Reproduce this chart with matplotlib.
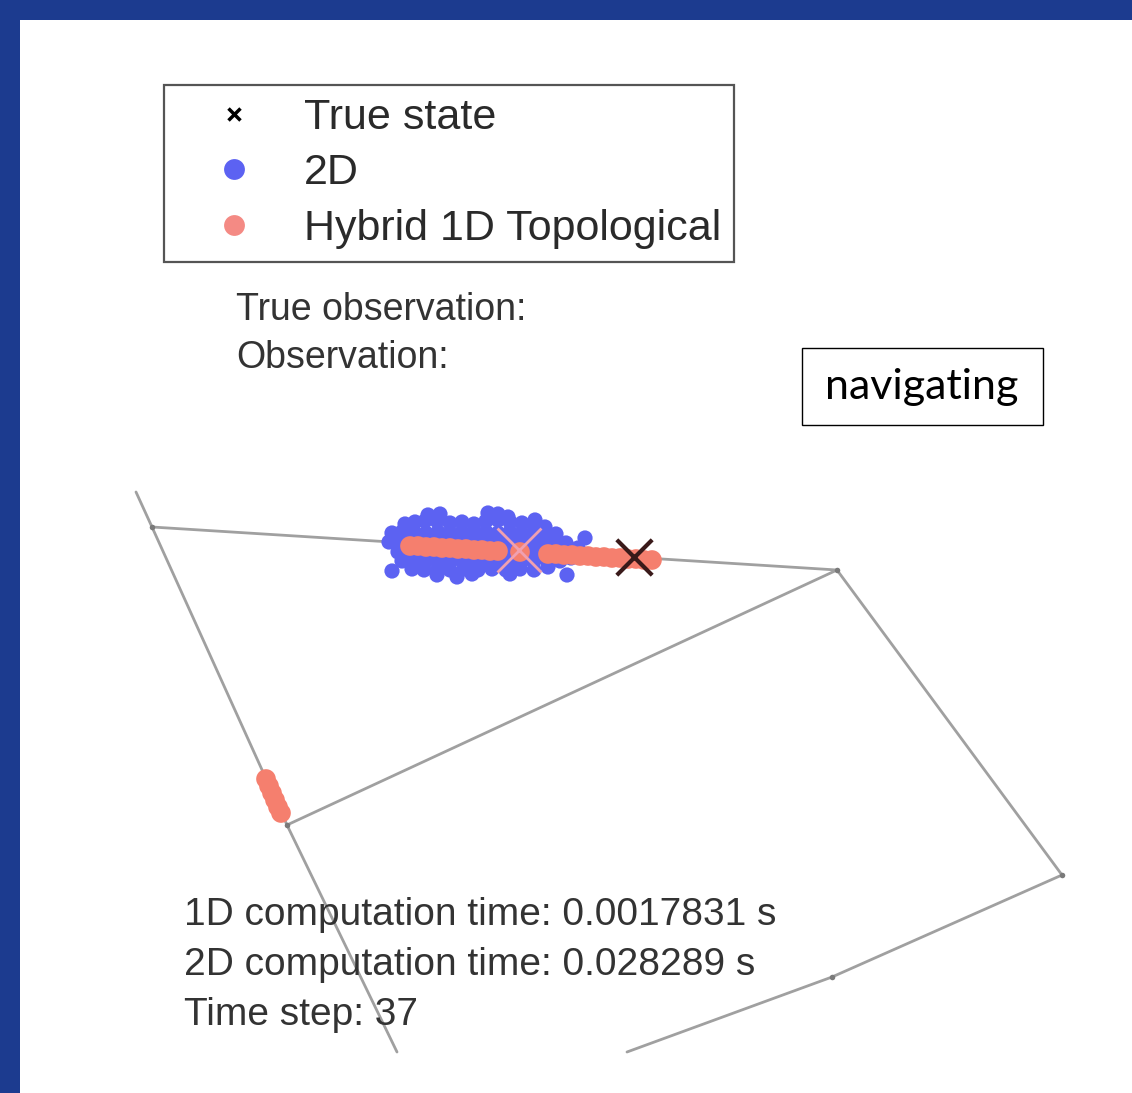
import matplotlib
matplotlib.use("Agg")
import matplotlib.pyplot as plt
from matplotlib.lines import Line2D
from matplotlib.patches import Rectangle

# ---------------- data (map coordinates) ----------------
# graph nodes
node_x = [152, 837, 287, 1062, 832]
node_y = [527, 570, 825, 875, 977]
# edges as polylines
edge_top_x = [152, 837]
edge_top_y = [527, 570]
edge_left_x = [136, 152, 287, 397]
edge_left_y = [492, 527, 825, 1052]
edge_diag_x = [287, 837]
edge_diag_y = [825, 570]
edge_right_x = [837, 1062]
edge_right_y = [570, 875]
edge_bottom_x = [1062, 832, 627]
edge_bottom_y = [875, 977, 1052]

# 2D particle filter particles
blue_x = [428, 440, 488, 498, 508, 535,
          405, 415, 425, 437, 450, 462, 474, 486, 498, 510, 522, 534, 545,
          392, 402, 414, 426, 438, 450, 462, 474, 486, 498, 510, 522, 534, 546, 556,
          389, 400, 412, 424, 436, 448, 460, 472, 484, 496, 508, 520, 532, 544, 556, 566,
          398, 410, 422, 434, 446, 458, 470, 482, 494, 506, 518, 530, 542, 554, 564,
          402, 414, 426, 438, 450, 462, 474, 486, 498, 510, 522, 534, 548, 560, 571,
          412, 424, 438, 450, 464, 478, 492, 506, 520, 534, 548,
          392, 437, 457, 567, 585, 578, 510, 472]
blue_y = [515, 514, 513, 514, 517, 520,
          524, 522, 521, 521, 523, 522, 524, 521, 520, 522, 523, 524, 527,
          533, 532, 532, 533, 532, 533, 532, 533, 532, 533, 532, 533, 532, 533, 534,
          542, 542, 542, 542, 542, 542, 542, 542, 542, 542, 542, 542, 542, 542, 542, 543,
          552, 552, 552, 552, 552, 552, 552, 552, 552, 552, 552, 552, 552, 552, 553,
          561, 561, 561, 561, 561, 561, 561, 561, 561, 561, 561, 561, 561, 561, 558,
          569, 570, 569, 570, 569, 570, 569, 570, 569, 570, 567,
          571, 575, 577, 575, 538, 548, 574, 574]

# hybrid 1D topological particles (on the edges)
hyb_x = [410, 418, 426, 434, 442, 450, 458, 466, 474, 482, 490, 498,
         520, 548, 556, 564, 572, 580, 588, 596, 604, 612, 620, 628, 636, 644, 652,
         266, 269, 272, 275, 278, 281]
hyb_y = [546, 546, 547, 547, 548, 548, 549, 549, 550, 550, 551, 551,
         552, 554, 554, 555, 555, 556, 556, 557, 557, 558, 558, 559, 559, 560, 560,
         779, 786, 793, 800, 807, 813]

# hybrid estimate marker
est_x = [519]
est_y = [550]
# true state
true_x = [634]
true_y = [557]

legend_labels = ["True state", "2D", "Hybrid 1D Topological"]
info_lines = ["1D computation time: 0.0017831 s",
              "2D computation time: 0.028289 s",
              "Time step: 37"]
obs_lines = ["True observation:", "Observation:"]
mode_label = "navigating"

# ---------------- figure ----------------
W, H = 1132, 1093
fig = plt.figure(figsize=(W / 100, H / 100), dpi=100, facecolor="#1c3b8f")
ax = fig.add_axes([0, 0, 1, 1])
ax.set_xlim(0, W)
ax.set_ylim(H, 0)
ax.axis("off")
ax.add_patch(Rectangle((20, 20), W - 20, H - 20, facecolor="white",
                       edgecolor="none", zorder=0))

edge_kw = dict(color="#a0a0a0", lw=2.0, solid_capstyle="round", zorder=1)
for ex, ey in [(edge_top_x, edge_top_y), (edge_left_x, edge_left_y),
               (edge_diag_x, edge_diag_y), (edge_right_x, edge_right_y),
               (edge_bottom_x, edge_bottom_y)]:
    ax.plot(ex, ey, **edge_kw)
ax.plot(node_x, node_y, "o", color="#7a7a7a", ms=4, mec="none", zorder=2)

blue_c = "#5c62f2"
salmon_c = "#f57f6e"
ax.scatter(blue_x, blue_y, s=120, color=blue_c, edgecolors="none", zorder=3)
ax.scatter(hyb_x, hyb_y, s=200, color=salmon_c, edgecolors="none", zorder=4)
ax.scatter(est_x, est_y, s=1000, marker="x", color="#f0a0b0", linewidths=2.0, zorder=4.5)
ax.scatter(true_x, true_y, s=650, marker="x", color="#3a1a1a", linewidths=3.0, zorder=5)

# legend
handles = [
    Line2D([], [], ls="none", marker="x", color="black", ms=9, mew=2.5),
    Line2D([], [], ls="none", marker="o", color=blue_c, ms=15, mec="none"),
    Line2D([], [], ls="none", marker="o", color="#f48a84", ms=15, mec="none"),
]
leg = ax.legend(handles, legend_labels, loc="upper left",
                bbox_to_anchor=(164 / W, 1 - 85 / H), bbox_transform=fig.transFigure,
                prop={"family": ["Liberation Sans", "DejaVu Sans"], "size": 31},
                frameon=True, fancybox=False, framealpha=1, edgecolor="#555555",
                borderpad=0.3, labelspacing=0.36, handlelength=2.65,
                handletextpad=0.3, borderaxespad=0)
leg.get_frame().set_linewidth(1.6)
for t in leg.get_texts():
    t.set_color("#2a2a2a")

txt_kw = dict(family=["Liberation Sans", "DejaVu Sans"], color="#333333",
              va="center", ha="left")
for i, s in enumerate(obs_lines):
    ax.text(236, 310 + 48 * i, s, fontsize=27, **txt_kw)
for i, s in enumerate(info_lines):
    ax.text(184, 915 + 50 * i, s, fontsize=28, **txt_kw)

ax.text(922, 387, mode_label, fontsize=31, family=["Lato", "DejaVu Sans"],
        color="black", ha="center", va="center", zorder=6)
ax.add_patch(Rectangle((802, 348), 241, 77, facecolor="none",
                       edgecolor="black", lw=1.0, zorder=6))

fig.savefig("out.png", dpi=100, facecolor=fig.get_facecolor())
